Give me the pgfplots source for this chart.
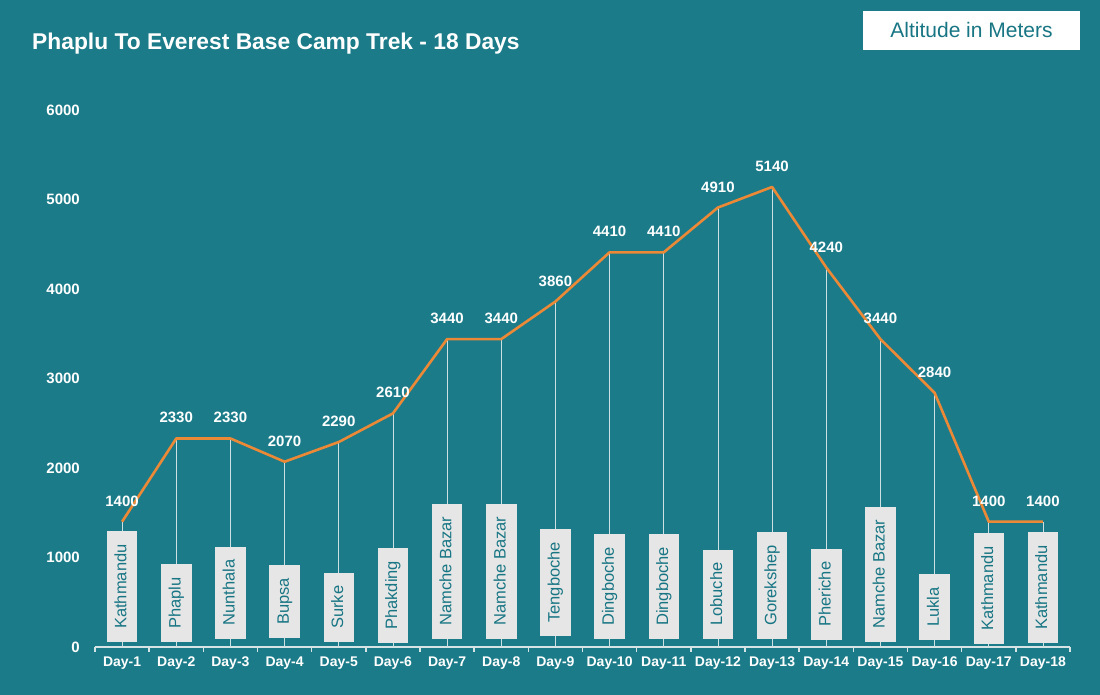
\documentclass[border=0pt]{standalone}
\usepackage{pgfplots}
\pgfplotsset{compat=1.18}
\usepackage{fontspec}
\setmainfont{Liberation Sans}
\definecolor{bg}{RGB}{27,123,137}
\definecolor{orangeline}{RGB}{235,137,55}
\definecolor{drop}{RGB}{205,225,228}
\definecolor{boxgray}{RGB}{230,230,230}
\definecolor{boxtext}{RGB}{24,118,132}
\definecolor{axline}{RGB}{215,228,230}
\begin{document}
\begin{tikzpicture}
\fill[bg] (0,0) rectangle (1100pt,695pt);
\node[anchor=west, text=white, font=\fontsize{22.8}{27}\selectfont\bfseries, inner sep=0pt] at (32pt,651pt) {Phaplu To Everest Base Camp Trek - 18 Days};
\fill[white] (863pt,645pt) rectangle (1080pt,684pt);
\node[text=boxtext, font=\fontsize{21}{25}\selectfont, inner sep=0pt] at (971.5pt,664.5pt) {Altitude in Meters};
\begin{axis}[
  at={(95pt,48pt)}, anchor=south west,
  scale only axis, width=975pt, height=537pt,
  xmin=0.5, xmax=18.5, ymin=0, ymax=6000,
  axis y line*=left,
  y axis line style={draw=none},
  axis x line*=bottom,
  x axis line style={draw=axline, line width=1.5pt, -},
  xtick={1,...,18},
  xticklabels={Day-1,Day-2,Day-3,Day-4,Day-5,Day-6,Day-7,Day-8,Day-9,Day-10,Day-11,Day-12,Day-13,Day-14,Day-15,Day-16,Day-17,Day-18},
  major tick length=0pt,
  minor xtick={0.5,1.5,...,18.5},
  minor tick length=5pt,
  tick align=outside,
  minor tick style={draw=axline, line width=1.5pt},
  ytick style={draw=none},
  xticklabel style={text=white, font=\fontsize{14}{16}\selectfont\bfseries, inner sep=0pt, anchor=north, yshift=-10pt},
  ytick={0,1000,...,6000},
  /pgf/number format/assume math mode=true,
  /pgf/number format/1000 sep={},
  yticklabel style={text=white, font=\fontsize{15}{18}\selectfont\bfseries, inner sep=0pt, anchor=east, xshift=-15pt},
  clip=false,
]
% drop lines
\addplot[ycomb, draw=drop, line width=0.8pt, mark=none] table {
x y
1 1400
2 2330
3 2330
4 2070
5 2290
6 2610
7 3440
8 3440
9 3860
10 4410
11 4410
12 4910
13 5140
14 4240
15 3440
16 2840
17 1400
18 1400
};
% place label boxes (y = bottom of box)
\addplot[draw=none, mark=none, nodes near coords, point meta=explicit symbolic,
  nodes near coords style={rotate=90, anchor=west, fill=boxgray, text=boxtext,
    font=\fontsize{16.5}{19}\selectfont, text height=12pt, text depth=3.5pt,
    inner xsep=13pt, inner ysep=7.5pt}]
table[meta=name, col sep=comma] {
x,y,name
1,56,Kathmandu
2,56,Phaplu
3,89,Nunthala
4,100,Bupsa
5,56,Surke
6,45,Phakding
7,89,Namche Bazar
8,89,Namche Bazar
9,123,Tengboche
10,89,Dingboche
11,89,Dingboche
12,89,Lobuche
13,89,Gorekshep
14,78,Pheriche
15,56,Namche Bazar
16,78,Lukla
17,34,Kathmandu
18,45,Kathmandu
};
% altitude line
\addplot[draw=orangeline, line width=2.6pt, mark=none, line join=round,
  nodes near coords, nodes near coords style={text=white, font=\fontsize{15}{18}\selectfont\bfseries, anchor=south, inner sep=0pt, yshift=14pt},
  /pgf/number format/1000 sep={}] table {
x y
1 1400
2 2330
3 2330
4 2070
5 2290
6 2610
7 3440
8 3440
9 3860
10 4410
11 4410
12 4910
13 5140
14 4240
15 3440
16 2840
17 1400
18 1400
};
\end{axis}
\pgfresetboundingbox
\useasboundingbox (0,0) rectangle (1100pt,695pt);
\end{tikzpicture}
\end{document}
